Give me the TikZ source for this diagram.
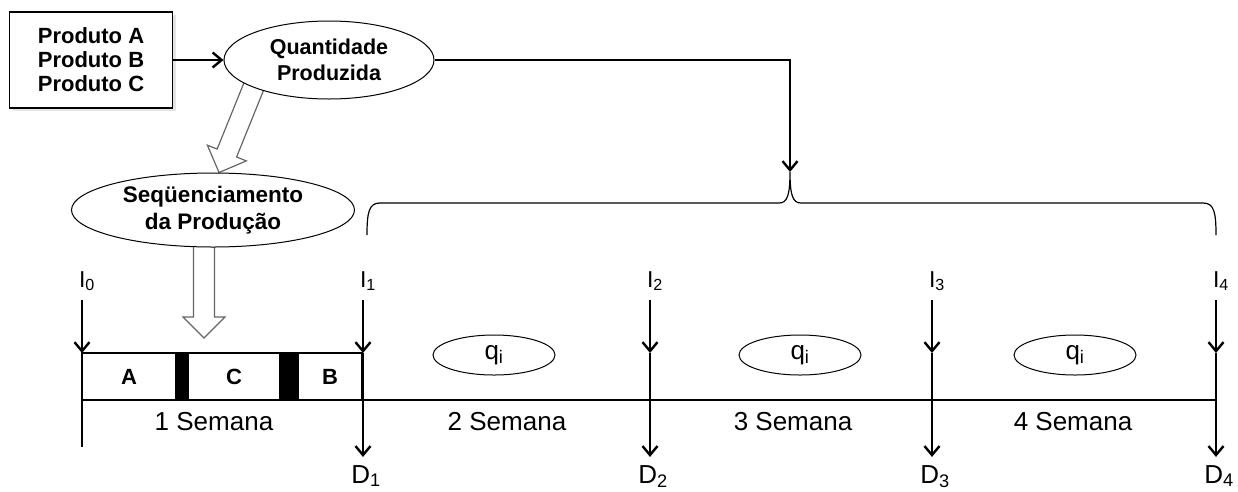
\documentclass[tikz,border=0pt]{standalone}
\usepackage{fontspec}
\setmainfont{Liberation Sans}
\usetikzlibrary{shapes,shadows,arrows.meta,calc,positioning}
\tikzstyle{line} = [draw, line width=2.4pt, -{Straight Barb[length=9pt,width=15pt]}]
\tikzstyle{thin} = [draw, line width=1.2pt]
\tikzstyle{oval} = [draw, ellipse, fill=white, line width=1pt, inner sep=0pt, align=center, font=\fontsize{21.5}{26}\selectfont\bfseries]
\tikzstyle{cell} = [draw, rectangle, line width=1.2pt, minimum height=47, inner sep=0pt, outer sep=0pt, font=\fontsize{22}{22}\selectfont\bfseries]
\tikzstyle{lbl} = [inner sep=1pt, font=\fontsize{26}{26}\selectfont]
\pgfdeclarelayer{background}
\pgfsetlayers{background,main}
% hollow block arrow between two named points
\newcommand{\blockarrow}[2]{%
  \path ($(#2)!21pt!(#1)$) coordinate (ba);
  \draw[line width=1.2pt, draw=black!60, line join=miter]
    ($(#1)!10.5pt!90:(#2)$) -- ($(ba)!10.5pt!90:(#2)$) -- ($(ba)!21pt!90:(#2)$) -- (#2)
    -- ($(ba)!21pt!-90:(#2)$) -- ($(ba)!10.5pt!-90:(#2)$) -- ($(#1)!10.5pt!-90:(#2)$);}

\begin{document}
\begin{tikzpicture}[x=1pt, y=-1pt]
	\useasboundingbox (0,0) rectangle (1238,491);
	
	\node [draw, rectangle, fill=white, line width=1.2pt, minimum width=163, minimum height=96, align=center, font=\fontsize{22}{24}\selectfont\bfseries, drop shadow={shadow xshift=3pt, shadow yshift=-3pt, fill=black!20}] (prod) at (91,60) {Produto A\\Produto B\\Produto C};
	\node [oval, minimum width=210, minimum height=78] (qtd) at (329,60) {Quantidade\\Produzida};
	\node [oval, minimum width=283, minimum height=74, font=\fontsize{22.5}{27}\selectfont\bfseries] (seq) at (213,210) {Seqüenciamento\\da Produção};
	
	% gantt bar of week 1
	\node [cell, minimum width=94] (cA) at (129,376.5) {A};
	\node [cell, fill=black, minimum width=12, right=0pt of cA] (k1) {};
	\node [cell, minimum width=92, right=0pt of k1] (cC) {C};
	\node [cell, fill=black, minimum width=18, right=0pt of cC] (k2) {};
	\node [cell, minimum width=64, right=0pt of k2] (cB) {B};
	
	\node [draw, ellipse, line width=1pt, minimum width=122, minimum height=40, lbl] (q1) at (494,355) {q\textsubscript{i}};
	\node [draw, ellipse, line width=1pt, minimum width=122, minimum height=40, lbl] (q2) at (800,355) {q\textsubscript{i}};
	\node [draw, ellipse, line width=1pt, minimum width=122, minimum height=40, lbl] (q3) at (1075,355) {q\textsubscript{i}};
	
	\node [lbl] (s1) at (214,422) {1 Semana};
	\node [lbl] (s2) at (507,422) {2 Semana};
	\node [lbl] (s3) at (793,422) {3 Semana};
	\node [lbl] (s4) at (1073,422) {4 Semana};
	
	\foreach \i/\x in {0/82,1/363,2/650,3/932,4/1216}{
		\coordinate (u\i) at (\x,353);
		\coordinate (t\i) at (\x,400);
		\node [lbl, font=\fontsize{23}{23}\selectfont, anchor=base] (I\i) at (\x+5,287) {I\textsubscript{\i}};
		\path [line, shorten <=8pt] (I\i.south -| u\i) -- (u\i);
	}
	\foreach \i in {1,...,4}{
		\node [lbl, anchor=base] (D\i) at ($(t\i)+(3,83)$) {D\textsubscript{\i}};
		\path [thin] (u\i) -- (t\i);
		\path [line, shorten >=7pt] (t\i) -- (D\i.north -| t\i);
	}
	\coordinate (tend) at (82,447);
	\path [thin] (t0) -- (t4);
	\path [thin] (u0) -- (tend);
	
	% brace over weeks 2-4
	\coordinate (bracetip) at (790,172);
	\path [thin] (367,235) .. controls (367,212) and (369,203) .. (380,203) -- (779,203) .. controls (787,203) and (790,196) .. (bracetip) .. controls (790,196) and (793,203) .. (801,203) -- (1203,203) .. controls (1214,203) and (1216,212) .. (1216,235);
	
	\path [line] (prod.east) -- (qtd.west);
	\path [line] (qtd.east) -| (bracetip);
	
	\coordinate (seqin) at ($(seq.north)+(6,0)$);
	\coordinate (seqout) at ($(seq.south)+(-9,-6)$);
	\coordinate (bartip) at (204,338);
	\begin{pgfonlayer}{background}
		\blockarrow{$(qtd.200)!-6pt!(seqin)$}{seqin}
		\blockarrow{seqout}{bartip}
	\end{pgfonlayer}
\end{tikzpicture}
\end{document}
